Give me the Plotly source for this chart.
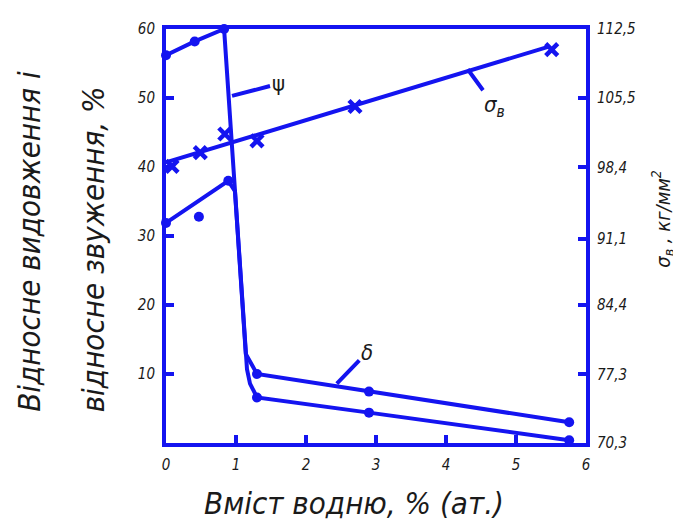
import plotly.graph_objects as go

# ---- data ----
# psi: measured points
psi_x = [0.0, 0.41, 0.83, 1.30, 2.90, 5.76]
psi_y = [56.2, 58.2, 60.0, 6.6, 4.4, 0.4]
# psi curve path (incl. bend near x~1.15)
psi_path_x = [0.0, 0.41, 0.83, 1.14, 1.157, 1.20, 1.30, 2.90, 5.76]
psi_path_y = [56.2, 58.2, 60.0, 12.9, 10.7, 8.6, 6.6, 4.4, 0.4]

# delta: measured points
delta_x = [0.0, 0.89, 1.30, 2.90, 5.76]
delta_y = [31.9, 38.0, 10.0, 7.45, 3.0]
delta_path_x = [0.0, 0.89, 0.985, 1.14, 1.30, 2.90, 5.76]
delta_path_y = [31.9, 38.0, 36.5, 12.9, 10.0, 7.45, 3.0]
# outlier point
delta_out_x = [0.47]
delta_out_y = [32.8]

# sigma_b (right axis, kg/mm^2)
sigma_x = [0.086, 0.49, 0.84, 1.30, 2.70, 5.51]
sigma_y = [98.5, 99.9, 101.8, 101.1, 104.6, 110.4]
sigma_fit_x = [0.0, 5.47]
sigma_fit_y = [98.9, 110.7]

x_ticks = [0, 1, 2, 3, 4, 5, 6]
y_ticks = [10, 20, 30, 40, 50, 60]
y2_ticks = [70.3, 77.3, 84.4, 91.1, 98.4, 105.5, 112.5]
y2_ticktext = ["70,3", "77,3", "84,4", "91,1", "98,4", "105,5", "112,5"]

BLUE = "#1414f0"
FONT = "Liberation Sans Narrow, DejaVu Sans Condensed, Liberation Sans, sans-serif"
TXT = "#1a1a1a"

fig = go.Figure()

fig.add_trace(go.Scatter(x=psi_path_x, y=psi_path_y, mode="lines",
                         line=dict(color=BLUE, width=4), cliponaxis=False,
                         showlegend=False, hoverinfo="skip"))
fig.add_trace(go.Scatter(x=psi_x, y=psi_y, mode="markers",
                         marker=dict(color=BLUE, size=10), cliponaxis=False,
                         showlegend=False))
fig.add_trace(go.Scatter(x=delta_path_x, y=delta_path_y, mode="lines",
                         line=dict(color=BLUE, width=4), cliponaxis=False,
                         showlegend=False, hoverinfo="skip"))
fig.add_trace(go.Scatter(x=delta_x, y=delta_y, mode="markers",
                         marker=dict(color=BLUE, size=10), cliponaxis=False,
                         showlegend=False))
fig.add_trace(go.Scatter(x=delta_out_x, y=delta_out_y, mode="markers",
                         marker=dict(color=BLUE, size=10), cliponaxis=False,
                         showlegend=False))
fig.add_trace(go.Scatter(x=sigma_fit_x, y=sigma_fit_y, mode="lines", yaxis="y2",
                         line=dict(color=BLUE, width=4), cliponaxis=False,
                         showlegend=False, hoverinfo="skip"))
fig.add_trace(go.Scatter(x=sigma_x, y=sigma_y, mode="markers", yaxis="y2",
                         marker=dict(color=BLUE, size=12, symbol="x-thin",
                                     line=dict(color=BLUE, width=4.5)),
                         cliponaxis=False, showlegend=False))

tickfont = dict(family=FONT, size=15, color=TXT, style="italic")

# the page body adds an 8 px margin, so the figure is 8 px smaller than the window
fig.update_layout(
    width=673, height=521, autosize=False,
    margin=dict(l=158, r=95, t=16, b=86, pad=0),
    paper_bgcolor="white", plot_bgcolor="white",
    xaxis=dict(range=[0, 6], tickvals=x_ticks, ticks="inside", ticklen=8,
               tickwidth=4, tickcolor=BLUE, showline=True, mirror=True,
               linewidth=4, linecolor=BLUE, showgrid=False, zeroline=False,
               tickfont=tickfont, ticklabelstandoff=5),
    yaxis=dict(range=[0, 60], tickvals=y_ticks, ticks="inside", ticklen=8,
               tickwidth=4, tickcolor=BLUE, showline=True, mirror=True,
               linewidth=4, linecolor=BLUE, showgrid=False, zeroline=False,
               tickfont=tickfont, ticklabelstandoff=4),
    yaxis2=dict(range=[70.3, 112.5], tickvals=y2_ticks, ticktext=y2_ticktext,
                overlaying="y", side="right", ticks="inside", ticklen=8,
                tickwidth=4, tickcolor=BLUE, showline=False, showgrid=False,
                zeroline=False, tickfont=tickfont, ticklabelstandoff=10),
)

# page-pixel -> paper coordinates (plot area spans x 166..586, y 24..443 on the page)
def px_x(p):
    return (p - 166) / 420.0

def px_y(p):
    return (443 - p) / 419.0

big = dict(family=FONT, size=31, color=TXT, style="italic")
fig.add_annotation(text="Відносне видовження і", xref="paper", yref="paper",
                   x=px_x(29), y=px_y(414), xanchor="center", yanchor="bottom",
                   textangle=-90, showarrow=False, font=big)
fig.add_annotation(text="відносне звуження, %", xref="paper", yref="paper",
                   x=px_x(93), y=px_y(414), xanchor="center", yanchor="bottom",
                   textangle=-90, showarrow=False, font=big)
fig.add_annotation(text="Вміст водню, % (ат.)", xref="paper", yref="paper",
                   x=px_x(354), y=px_y(504), xanchor="center", yanchor="middle",
                   showarrow=False, font=big)
fig.add_annotation(text="σ<sub>в</sub> , кг/мм<sup>2</sup>", xref="paper", yref="paper",
                   x=px_x(663), y=px_y(216), xanchor="center", yanchor="middle",
                   textangle=-90, showarrow=False,
                   font=dict(family=FONT, size=20, color=TXT, style="italic"))

lab = dict(family=FONT, size=22, color=TXT)
fig.add_annotation(text="ψ", x=0.943, y=50.3, xref="x", yref="y",
                   ax=46, ay=-12, showarrow=True, arrowhead=0, arrowwidth=4,
                   arrowcolor=BLUE, standoff=0, font=lab)
fig.add_annotation(text="σ<sub>в</sub>", x=4.31, y=108.4, xref="x", yref="y2",
                   ax=27, ay=37, showarrow=True, arrowhead=0, arrowwidth=4,
                   arrowcolor=BLUE, standoff=0,
                   font=dict(family=FONT, size=22, color=TXT, style="italic"))
fig.add_annotation(text="δ", x=2.44, y=8.6, xref="x", yref="y",
                   ax=30, ay=-31, showarrow=True, arrowhead=0, arrowwidth=4,
                   arrowcolor=BLUE, standoff=0,
                   font=dict(family=FONT, size=22, color=TXT, style="italic"))

fig.write_html("out.html")
